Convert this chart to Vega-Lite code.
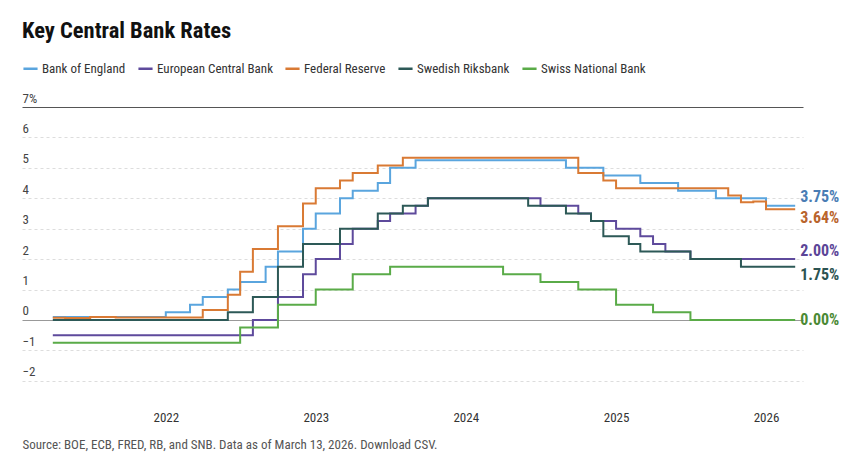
{
  "$schema": "https://vega.github.io/schema/vega-lite/v6.json",
  "width": 781,
  "height": 292,
  "autosize": {"type": "none"},
  "padding": {"left": 22, "top": 107, "right": 61, "bottom": 65},
  "background": "white",
  "config": {
    "font": "Roboto Condensed, Roboto, sans-serif",
    "view": {"stroke": null}
  },
  "title": {
    "text": "Key Central Bank Rates",
    "anchor": "start",
    "frame": "group",
    "fontSize": 22.5,
    "fontWeight": "bold",
    "color": "#111111",
    "offset": 18
  },
  "data": {
    "format": {"parse": {"d": "date"}},
    "values": [
      {"b": "Bank of England", "d": "2021-04-01", "v": 0.1},
      {"b": "Bank of England", "d": "2022-01-01", "v": 0.25},
      {"b": "Bank of England", "d": "2022-03-01", "v": 0.5},
      {"b": "Bank of England", "d": "2022-04-01", "v": 0.75},
      {"b": "Bank of England", "d": "2022-06-01", "v": 1.0},
      {"b": "Bank of England", "d": "2022-07-01", "v": 1.25},
      {"b": "Bank of England", "d": "2022-09-01", "v": 1.75},
      {"b": "Bank of England", "d": "2022-10-01", "v": 2.25},
      {"b": "Bank of England", "d": "2022-12-01", "v": 3.0},
      {"b": "Bank of England", "d": "2023-01-01", "v": 3.5},
      {"b": "Bank of England", "d": "2023-03-01", "v": 4.0},
      {"b": "Bank of England", "d": "2023-04-01", "v": 4.25},
      {"b": "Bank of England", "d": "2023-06-01", "v": 4.5},
      {"b": "Bank of England", "d": "2023-07-01", "v": 5.0},
      {"b": "Bank of England", "d": "2023-09-01", "v": 5.25},
      {"b": "Bank of England", "d": "2024-09-01", "v": 5.0},
      {"b": "Bank of England", "d": "2024-12-01", "v": 4.75},
      {"b": "Bank of England", "d": "2025-03-01", "v": 4.5},
      {"b": "Bank of England", "d": "2025-06-01", "v": 4.25},
      {"b": "Bank of England", "d": "2025-09-01", "v": 4.0},
      {"b": "Bank of England", "d": "2026-01-01", "v": 3.75},
      {"b": "Bank of England", "d": "2026-03-13", "v": 3.75},
      {"b": "European Central Bank", "d": "2021-04-01", "v": -0.5},
      {"b": "European Central Bank", "d": "2022-08-01", "v": 0.0},
      {"b": "European Central Bank", "d": "2022-10-01", "v": 0.75},
      {"b": "European Central Bank", "d": "2022-12-01", "v": 1.5},
      {"b": "European Central Bank", "d": "2023-01-01", "v": 2.0},
      {"b": "European Central Bank", "d": "2023-03-01", "v": 2.5},
      {"b": "European Central Bank", "d": "2023-04-01", "v": 3.0},
      {"b": "European Central Bank", "d": "2023-06-01", "v": 3.25},
      {"b": "European Central Bank", "d": "2023-07-01", "v": 3.5},
      {"b": "European Central Bank", "d": "2023-09-01", "v": 3.75},
      {"b": "European Central Bank", "d": "2023-10-01", "v": 4.0},
      {"b": "European Central Bank", "d": "2024-07-01", "v": 3.75},
      {"b": "European Central Bank", "d": "2024-10-01", "v": 3.5},
      {"b": "European Central Bank", "d": "2024-11-01", "v": 3.25},
      {"b": "European Central Bank", "d": "2025-01-01", "v": 3.0},
      {"b": "European Central Bank", "d": "2025-03-01", "v": 2.75},
      {"b": "European Central Bank", "d": "2025-04-01", "v": 2.5},
      {"b": "European Central Bank", "d": "2025-05-01", "v": 2.25},
      {"b": "European Central Bank", "d": "2025-07-01", "v": 2.0},
      {"b": "European Central Bank", "d": "2026-03-13", "v": 2.0},
      {"b": "Federal Reserve", "d": "2021-04-01", "v": 0.07},
      {"b": "Federal Reserve", "d": "2021-05-01", "v": 0.06},
      {"b": "Federal Reserve", "d": "2021-07-01", "v": 0.1},
      {"b": "Federal Reserve", "d": "2021-09-01", "v": 0.08},
      {"b": "Federal Reserve", "d": "2022-04-01", "v": 0.33},
      {"b": "Federal Reserve", "d": "2022-06-01", "v": 0.83},
      {"b": "Federal Reserve", "d": "2022-07-01", "v": 1.58},
      {"b": "Federal Reserve", "d": "2022-08-01", "v": 2.33},
      {"b": "Federal Reserve", "d": "2022-10-01", "v": 3.08},
      {"b": "Federal Reserve", "d": "2022-12-01", "v": 3.83},
      {"b": "Federal Reserve", "d": "2023-01-01", "v": 4.33},
      {"b": "Federal Reserve", "d": "2023-03-01", "v": 4.58},
      {"b": "Federal Reserve", "d": "2023-04-01", "v": 4.83},
      {"b": "Federal Reserve", "d": "2023-06-01", "v": 5.08},
      {"b": "Federal Reserve", "d": "2023-08-01", "v": 5.33},
      {"b": "Federal Reserve", "d": "2024-10-01", "v": 4.83},
      {"b": "Federal Reserve", "d": "2024-12-01", "v": 4.58},
      {"b": "Federal Reserve", "d": "2025-01-01", "v": 4.33},
      {"b": "Federal Reserve", "d": "2025-10-01", "v": 4.09},
      {"b": "Federal Reserve", "d": "2025-11-01", "v": 3.87},
      {"b": "Federal Reserve", "d": "2025-12-01", "v": 3.89},
      {"b": "Federal Reserve", "d": "2026-01-01", "v": 3.64},
      {"b": "Federal Reserve", "d": "2026-03-13", "v": 3.64},
      {"b": "Swedish Riksbank", "d": "2021-04-01", "v": 0.0},
      {"b": "Swedish Riksbank", "d": "2022-06-01", "v": 0.25},
      {"b": "Swedish Riksbank", "d": "2022-08-01", "v": 0.75},
      {"b": "Swedish Riksbank", "d": "2022-10-01", "v": 1.75},
      {"b": "Swedish Riksbank", "d": "2022-12-01", "v": 2.5},
      {"b": "Swedish Riksbank", "d": "2023-03-01", "v": 3.0},
      {"b": "Swedish Riksbank", "d": "2023-06-01", "v": 3.5},
      {"b": "Swedish Riksbank", "d": "2023-08-01", "v": 3.75},
      {"b": "Swedish Riksbank", "d": "2023-10-01", "v": 4.0},
      {"b": "Swedish Riksbank", "d": "2024-06-01", "v": 3.75},
      {"b": "Swedish Riksbank", "d": "2024-09-01", "v": 3.5},
      {"b": "Swedish Riksbank", "d": "2024-11-01", "v": 3.25},
      {"b": "Swedish Riksbank", "d": "2024-12-01", "v": 2.75},
      {"b": "Swedish Riksbank", "d": "2025-02-01", "v": 2.5},
      {"b": "Swedish Riksbank", "d": "2025-03-01", "v": 2.25},
      {"b": "Swedish Riksbank", "d": "2025-07-01", "v": 2.0},
      {"b": "Swedish Riksbank", "d": "2025-11-01", "v": 1.75},
      {"b": "Swedish Riksbank", "d": "2026-03-13", "v": 1.75},
      {"b": "Swiss National Bank", "d": "2021-04-01", "v": -0.75},
      {"b": "Swiss National Bank", "d": "2022-07-01", "v": -0.25},
      {"b": "Swiss National Bank", "d": "2022-10-01", "v": 0.5},
      {"b": "Swiss National Bank", "d": "2023-01-01", "v": 1.0},
      {"b": "Swiss National Bank", "d": "2023-04-01", "v": 1.5},
      {"b": "Swiss National Bank", "d": "2023-07-01", "v": 1.75},
      {"b": "Swiss National Bank", "d": "2024-04-01", "v": 1.5},
      {"b": "Swiss National Bank", "d": "2024-07-01", "v": 1.25},
      {"b": "Swiss National Bank", "d": "2024-10-01", "v": 1.0},
      {"b": "Swiss National Bank", "d": "2025-01-01", "v": 0.5},
      {"b": "Swiss National Bank", "d": "2025-04-01", "v": 0.25},
      {"b": "Swiss National Bank", "d": "2025-07-01", "v": 0.0},
      {"b": "Swiss National Bank", "d": "2026-03-13", "v": 0.0}
    ]
  },
  "encoding": {
    "x": {
      "field": "d",
      "type": "temporal",
      "scale": {"domain": [{"year": 2021, "month": 1, "date": 16}, {"year": 2026, "month": 4, "date": 1}]},
      "axis": {
        "title": "Source: BOE, ECB, FRED, RB, and SNB. Data as of March 13, 2026. Download CSV.",
        "titleAnchor": "start",
        "titleAlign": "left",
        "titleFontWeight": "normal",
        "titleFontSize": 13,
        "titleColor": "#555555",
        "titlePadding": 14,
        "format": "%Y",
        "tickCount": {"interval": "year", "step": 1},
        "domain": false,
        "ticks": false,
        "grid": false,
        "labelPadding": 12,
        "labelFontSize": 13,
        "labelColor": "#333333"
      }
    },
    "y": {
      "field": "v",
      "type": "quantitative",
      "scale": {"domain": [-2.6, 7], "nice": false, "zero": false},
      "axis": {
        "title": null,
        "values": [-2, -1, 0, 1, 2, 3, 4, 5, 6, 7],
        "domain": false,
        "ticks": false,
        "tickSize": 0,
        "labelAlign": "left",
        "labelPadding": 0,
        "labelBaseline": "alphabetic",
        "labelOffset": -5,
        "labelFontSize": 13,
        "labelColor": "#444444",
        "labelExpr": "datum.value == 7 ? '7%' : datum.label",
        "gridColor": {"condition": [{"test": "datum.value == 7", "value": "#555555"}, {"test": "datum.value == 0", "value": "#999999"}], "value": "#dddddd"},
        "gridDash": {"condition": {"test": "datum.value == 7 || datum.value == 0", "value": []}, "value": [3, 3]},
        "gridWidth": 1
      }
    }
  },
  "layer": [
    {
      "mark": {"type": "line", "interpolate": "step-after", "strokeWidth": 2},
      "encoding": {
        "color": {
          "field": "b",
          "type": "nominal",
          "scale": {
            "domain": ["Bank of England", "European Central Bank", "Federal Reserve", "Swedish Riksbank", "Swiss National Bank"],
            "range": ["#5aa5de", "#5e4a9c", "#d97a34", "#2d5957", "#5aab48"]
          },
          "legend": {
            "title": null,
            "orient": "none",
            "legendX": 0,
            "legendY": -47,
            "direction": "horizontal",
            "symbolType": "stroke",
            "symbolStrokeWidth": 2.5,
            "symbolSize": 200,
            "labelFontSize": 13,
            "labelColor": "#333333",
            "columnPadding": 7,
            "labelOffset": 3
          }
        }
      }
    },
    {
      "transform": [
        {"filter": "utcyear(datum.d) == 2026 && utcmonth(datum.d) == 2 && utcdate(datum.d) == 13"},
        {"filter": "datum.b == 'Bank of England' || datum.b == 'European Central Bank'"},
        {"calculate": "format(datum.v, '.2f') + '%'", "as": "lab"}
      ],
      "mark": {"type": "text", "align": "left", "dx": 5, "dy": -8.5, "fontSize": 16, "fontWeight": "bold"},
      "encoding": {
        "text": {"field": "lab"},
        "color": {
          "field": "b",
          "type": "nominal",
          "scale": {
            "domain": ["Bank of England", "European Central Bank", "Federal Reserve", "Swedish Riksbank", "Swiss National Bank"],
            "range": ["#4a7db4", "#5b4597", "#b9642c", "#2b5351", "#4b8a35"]
          },
          "legend": null
        }
      }
    },
    {
      "transform": [
        {"filter": "utcyear(datum.d) == 2026 && utcmonth(datum.d) == 2 && utcdate(datum.d) == 13"},
        {"filter": "datum.b == 'Federal Reserve' || datum.b == 'Swedish Riksbank'"},
        {"calculate": "format(datum.v, '.2f') + '%'", "as": "lab"}
      ],
      "mark": {"type": "text", "align": "left", "dx": 5, "dy": 8.5, "fontSize": 16, "fontWeight": "bold"},
      "encoding": {
        "text": {"field": "lab"},
        "color": {
          "field": "b",
          "type": "nominal",
          "scale": {
            "domain": ["Bank of England", "European Central Bank", "Federal Reserve", "Swedish Riksbank", "Swiss National Bank"],
            "range": ["#4a7db4", "#5b4597", "#b9642c", "#2b5351", "#4b8a35"]
          },
          "legend": null
        }
      }
    },
    {
      "transform": [
        {"filter": "utcyear(datum.d) == 2026 && utcmonth(datum.d) == 2 && utcdate(datum.d) == 13"},
        {"filter": "datum.b == 'Swiss National Bank'"},
        {"calculate": "format(datum.v, '.2f') + '%'", "as": "lab"}
      ],
      "mark": {"type": "text", "align": "left", "dx": 5, "dy": 0, "fontSize": 16, "fontWeight": "bold"},
      "encoding": {
        "text": {"field": "lab"},
        "color": {
          "field": "b",
          "type": "nominal",
          "scale": {
            "domain": ["Bank of England", "European Central Bank", "Federal Reserve", "Swedish Riksbank", "Swiss National Bank"],
            "range": ["#4a7db4", "#5b4597", "#b9642c", "#2b5351", "#4b8a35"]
          },
          "legend": null
        }
      }
    }
  ],
  "resolve": {"scale": {"color": "independent"}}
}
